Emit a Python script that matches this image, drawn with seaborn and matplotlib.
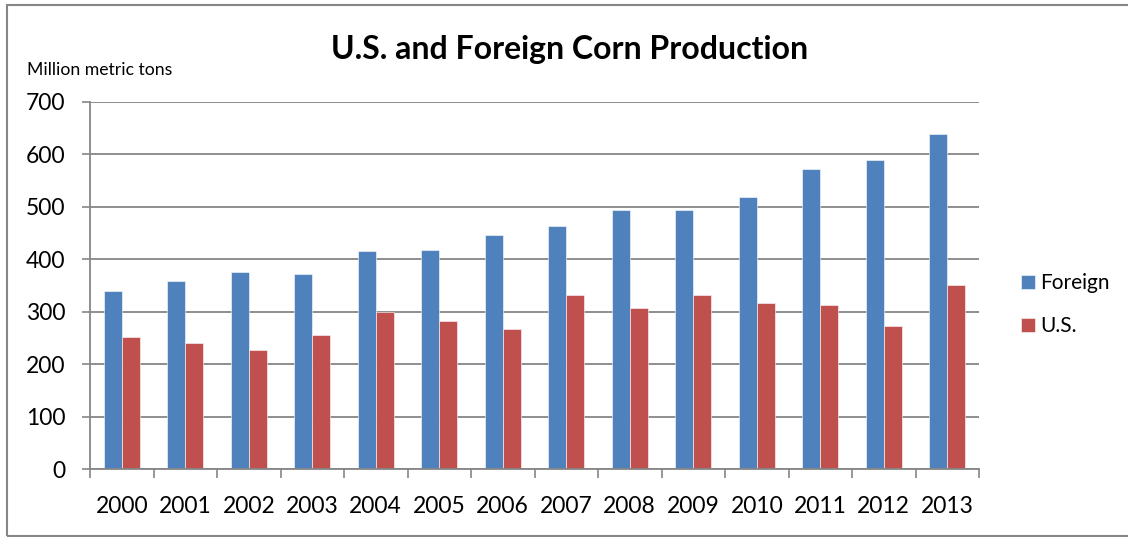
"""
U.S. and Foreign Corn Production - grouped bar chart.
Run: python plot.py  -> out.png
"""

import matplotlib.pyplot as plt
import pandas as pd
import seaborn as sns
from matplotlib.patches import Rectangle
from matplotlib.ticker import FixedLocator, NullFormatter

# ---------------------------------------------------------------------------
# Data (million metric tons)
# ---------------------------------------------------------------------------
YEARS = ["2000", "2001", "2002", "2003", "2004", "2005", "2006",
         "2007", "2008", "2009", "2010", "2011", "2012", "2013"]
FOREIGN = [339, 359, 375, 371, 416, 417, 447, 463, 493, 493, 518, 572, 589, 639]
US = [251, 240, 227, 255, 300, 282, 267, 331, 307, 332, 316, 313, 273, 351]
SERIES = ["Foreign", "U.S."]
Y_TICKS = [0, 100, 200, 300, 400, 500, 600, 700]

BLUE = "#4F81BD"
RED = "#C0504D"
GREY = "#868686"

df = pd.DataFrame(
    {
        "year": YEARS * 2,
        "tons": FOREIGN + US,
        "series": [SERIES[0]] * len(YEARS) + [SERIES[1]] * len(YEARS),
    }
)

sns.set_theme(style="white")
plt.rcParams["font.family"] = ["Lato", "DejaVu Sans"]
plt.rcParams["text.color"] = "black"

W, H = 1128, 537
fig = plt.figure(figsize=(W / 100, H / 100), dpi=100)
ax = fig.add_axes([90 / W, 1 - 469.3 / H, (979 - 90) / W, (469.3 - 101.7) / H])

sns.barplot(
    data=df,
    x="year",
    y="tons",
    hue="series",
    hue_order=SERIES,
    order=YEARS,
    palette=[BLUE, RED],
    saturation=1,
    width=0.56,
    edgecolor="white",
    linewidth=0.4,
    ax=ax,
)

# y axis: gridlines and outward ticks
ax.set_ylim(0, 700)
ax.set_yticks(Y_TICKS)
ax.yaxis.grid(True, color=GREY, linewidth=1.3)
ax.set_axisbelow(True)
ax.tick_params(axis="y", direction="out", length=5.8, width=1.2, color=GREY,
               pad=12, labelsize=16.5, labelcolor="black", left=True)

# x axis: tick marks between categories, labels at category centres
n = len(YEARS)
ax.set_xlim(-0.5, n - 0.5)
ax.xaxis.set_major_locator(FixedLocator([i - 0.5 for i in range(n + 1)]))
ax.xaxis.set_major_formatter(NullFormatter())
ax.xaxis.set_minor_locator(FixedLocator(list(range(n))))
ax.set_xticklabels(YEARS, minor=True)
ax.tick_params(axis="x", which="major", direction="out", length=6.5, width=1.2,
               color=GREY, bottom=True)
ax.tick_params(axis="x", which="minor", length=0, pad=19, labelsize=16.5,
               labelcolor="black")

for side in ["top", "right"]:
    ax.spines[side].set_visible(False)
for side in ["left", "bottom"]:
    ax.spines[side].set_color(GREY)
    ax.spines[side].set_linewidth(1.3)

ax.set_xlabel("")
ax.set_ylabel("")

# legend on the right, outside the plot
handles, labels = ax.get_legend_handles_labels()
ax.get_legend().remove()
fig.legend(
    handles,
    labels,
    loc="center left",
    bbox_to_anchor=(1021 / W, 1 - 304.5 / H),
    frameon=False,
    fontsize=15,
    labelcolor="black",
    handlelength=0.68,
    handleheight=0.68,
    handletextpad=0.25,
    labelspacing=1.1,
    borderpad=0,
    borderaxespad=0,
)

# titles
fig.text(570 / W, 1 - 49 / H, "U.S. and Foreign Corn Production",
         ha="center", va="center", fontsize=23, fontweight="bold", color="black")
fig.text(27 / W, 1 - 70 / H, "Million metric tons",
         ha="left", va="center", fontsize=12.7, color="black")

# chart frame
fig.add_artist(
    Rectangle((7 / W, 1 - 536 / H), 1.0, (536 - 5) / H,
              transform=fig.transFigure, fill=False,
              edgecolor=GREY, linewidth=1.5, clip_on=False)
)

fig.savefig("out.png", dpi=100)
plt.close(fig)
